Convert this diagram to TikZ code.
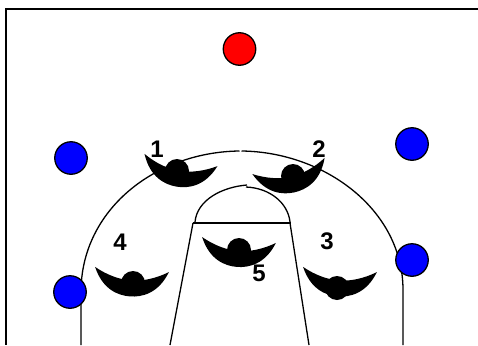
\documentclass[tikz,border=0pt]{standalone}
\usepackage{fontspec}
\setmainfont{Liberation Sans}
\definecolor{offense}{HTML}{0000FF}
\definecolor{ballside}{HTML}{FF0000}

\begin{document}
\begin{tikzpicture}[
    x=1pt, y=-1pt,
    court/.style={line width=1.3pt, black},
    frameline/.style={line width=1.8pt, black},
    spot/.style={circle, draw=black, line width=1.3pt, inner sep=0pt, minimum size=32.5pt},
    head/.style={circle, fill=black, inner sep=0pt, minimum size=24pt},
    num/.style={font=\fontsize{24}{24}\selectfont\bfseries, inner sep=0pt},
    crescent/.pic={
        \fill[black] (-37,0) .. controls (-28,22) and (-12,27) .. (0,27)
            .. controls (12,27) and (28,22) .. (37,0)
            .. controls (25,7) and (12,11) .. (0,11)
            .. controls (-12,11) and (-25,7) .. (-37,0) -- cycle;
    }
]
    \useasboundingbox (0,0) rectangle (478,345);

    % frame
    \draw[frameline] (478,9) -- (6,9) -- (6,345);

    % three point line
    \draw[court] (81,345) -- (81,292) .. controls (81,210) and (155,152) .. (239.5,151);
    \draw[court] (241.5,151) .. controls (325,152) and (403,210) .. (403,290) -- (403,345);

    % key
    \draw[court] (193,223) -- (291,223);
    \draw[court] (193,223) -- (170,345);
    \draw[court] (290,223) -- (309,345);
    \draw[court] (195,222) .. controls (197,200) and (222,187) .. (247,185);
    \draw[court] (246,187) .. controls (270,188) and (288,203) .. (290,222);

    % spots
    \node[spot, fill=ballside] (top) at (239.5,49) {};
    \node[spot, fill=offense] (wingL) at (71,158) {};
    \node[spot, fill=offense] (wingR) at (412,144) {};
    \node[spot, fill=offense] (cornerL) at (70,292) {};
    \node[spot, fill=offense] (cornerR) at (412,260) {};

    % defenders
    \pic[rotate=-9.5] at (181,160) {crescent};
    \node[head] (h1) at (177,171) {};
    \pic[rotate=12.6] at (288.5,166) {crescent};
    \node[head] (h2) at (293,176) {};
    \pic[rotate=-4] at (340,269.5) {crescent};
    \node[head] (h3) at (337,288) {};
    \pic[rotate=-4] at (132,269.5) {crescent};
    \node[head] (h4) at (133,283) {};
    \pic[rotate=-4.6] at (239,240) {crescent};
    \node[head] (h5) at (239,250) {};

    % numbers
    \node[num] (n1) at (157,149) {1};
    \node[num] (n2) at (319,149) {2};
    \node[num] (n3) at (327,241) {3};
    \node[num] (n4) at (120,242) {4};
    \node[num] (n5) at (259,273) {5};
\end{tikzpicture}
\end{document}
